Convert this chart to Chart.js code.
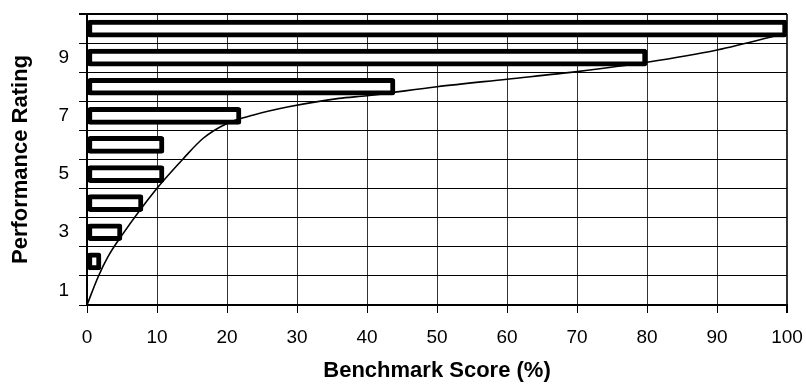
<!DOCTYPE html>
<html>
<head>
<meta charset="utf-8">
<script src="https://cdn.jsdelivr.net/npm/chart.js@4/dist/chart.umd.min.js"></script>
<style>
  html, body { margin: 0; padding: 0; background: #fff; }
  #wrap { width: 806px; height: 387px; }
</style>
</head>
<body>
<div id="wrap"><canvas id="perfChart" width="806" height="387"></canvas></div>
<script>
// Rating categories, top to bottom
const ratings = ['10', '9', '8', '7', '6', '5', '4', '3', '2', '1'];
// Bar lengths (benchmark score %) per rating
const barScores = [100, 80, 44, 22, 11, 11, 8, 5, 2, 0];
// Curve: score (%) and rating position
const curveScore = [0, 1.6, 3, 5, 10, 13.8, 16.6, 20, 23.8, 28.8, 36, 40, 50, 60, 70, 80, 90, 100];
const curveRating = [0.5, 1.47, 2.16, 2.9, 4.51, 5.54, 6.23, 6.74, 7.03, 7.31, 7.6, 7.69, 8.0, 8.26, 8.52, 8.84, 9.26, 9.85];
const xTicks = [0, 10, 20, 30, 40, 50, 60, 70, 80, 90, 100];

const fontFamily = "'Liberation Sans', Arial, sans-serif";

const ctx = document.getElementById('perfChart').getContext('2d');
const perfChart = new Chart(ctx, {
    type: 'bar',
    data: {
        labels: ratings,
        datasets: [{
            type: 'line',
            data: curveScore.map((s, i) => ({ x: s, y: curveRating[i] })),
            indexAxis: 'x',
            xAxisID: 'x',
            yAxisID: 'y2',
            borderColor: '#000',
            borderWidth: 1.6,
            pointRadius: 0,
            cubicInterpolationMode: 'monotone',
            order: 0
        }, {
            type: 'bar',
            data: barScores,
            xAxisID: 'x',
            yAxisID: 'y',
            backgroundColor: '#fff',
            borderColor: '#000',
            borderWidth: 5,
            borderRadius: 3,
            borderSkipped: false,
            barThickness: 17,
            grouped: false,
            order: 1
        }]
    },
    options: {
        indexAxis: 'y',
        responsive: false,
        animation: false,
        layout: { padding: { top: 14, right: 19, left: 0, bottom: 0 } },
        plugins: {
            legend: { display: false },
            tooltip: { enabled: false }
        },
        scales: {
            x: {
                type: 'linear',
                position: 'bottom',
                min: 0,
                max: 100,
                afterBuildTicks: (scale) => { scale.ticks = xTicks.map(v => ({ value: v })); },
                afterFit: (scale) => {
                    scale.height = 82;
                    scale.paddingLeft = 0;
                    scale.paddingRight = 0;
                },
                ticks: {
                    color: '#000',
                    font: { family: fontFamily, size: 19 },
                    padding: 13
                },
                grid: {
                    color: '#333',
                    lineWidth: (c) => (c.tick && c.tick.value === 100 ? 2 : 1),
                    tickLength: 8,
                    tickColor: '#000'
                },
                border: { color: '#000', width: 2 },
                title: {
                    display: true,
                    text: 'Benchmark Score (%)',
                    color: '#000',
                    font: { family: fontFamily, size: 22, weight: 'bold' },
                    padding: { top: 0, bottom: 3 }
                }
            },
            y: {
                type: 'category',
                position: 'left',
                offset: true,
                afterFit: (scale) => {
                    scale.width = 87;
                    scale.paddingTop = 0;
                    scale.paddingBottom = 0;
                },
                ticks: {
                    autoSkip: false,
                    color: '#000',
                    font: { family: fontFamily, size: 19 },
                    padding: 10,
                    callback: function (value) {
                        const label = this.getLabelForValue(value);
                        return Number(label) % 2 === 1 ? label : '';
                    }
                },
                grid: {
                    offset: true,
                    color: '#000',
                    lineWidth: (c) => (c.index === 0 ? 2 : 1),
                    tickLength: 8,
                    tickColor: '#000'
                },
                border: { color: '#000', width: 2 },
                title: {
                    display: true,
                    text: 'Performance Rating',
                    color: '#000',
                    font: { family: fontFamily, size: 22, weight: 'bold' },
                    padding: { top: 8, bottom: 0 }
                }
            },
            y2: {
                type: 'linear',
                display: false,
                offset: false,
                min: 0.5,
                max: 10.5
            }
        }
    }
});
</script>
</body>
</html>
